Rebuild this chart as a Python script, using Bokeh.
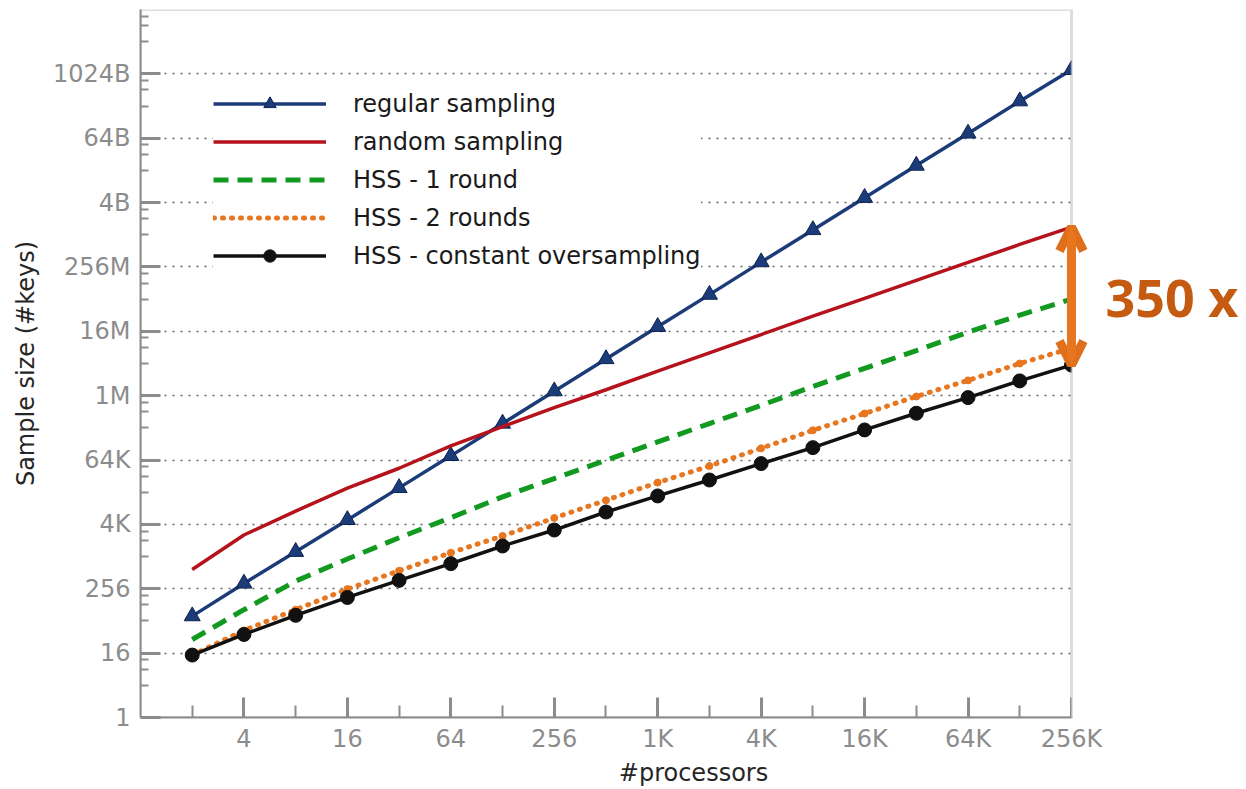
from bokeh.plotting import figure
from bokeh.models import (FixedTicker, Legend, LegendItem, Arrow, OpenHead, Label,
                          BoxAnnotation)
from bokeh.embed import file_html
from bokeh.resources import INLINE

# x: number of processors as powers of two (2 .. 256K)
processors_log2 = list(range(1, 19))

# sample sizes as log2(#keys)
regular_log2 = [6.3, 8.33, 10.3, 12.28, 14.27, 16.26, 18.27, 20.28, 22.28, 24.28,
                26.28, 28.3, 30.3, 32.3, 34.3, 36.3, 38.3, 40.25]
random_log2 = [9.2, 11.34, 12.83, 14.25, 15.49, 16.88, 18.08, 19.26, 20.37, 21.52,
               22.66, 23.8, 24.94, 26.05, 27.17, 28.28, 29.4, 30.48]
hss1_log2 = [4.85, 6.7, 8.48, 9.85, 11.17, 12.42, 13.71, 14.85, 15.98, 17.13,
             18.27, 19.4, 20.57, 21.7, 22.8, 23.95, 25.0, 26.0]
hss2_log2 = [3.88, 5.41, 6.7, 7.98, 9.12, 10.24, 11.28, 12.4, 13.5, 14.6,
             15.63, 16.73, 17.85, 18.89, 19.95, 20.95, 22.0, 22.95]
hssc_log2 = [3.88, 5.16, 6.35, 7.46, 8.52, 9.56, 10.66, 11.65, 12.77, 13.77,
             14.76, 15.78, 16.77, 17.87, 18.91, 19.88, 20.92, 21.9]

series_names = ["regular sampling", "random sampling", "HSS - 1 round",
                "HSS - 2 rounds", "HSS - constant oversampling"]

x_tick_log2 = [2, 4, 6, 8, 10, 12, 14, 16, 18]
x_tick_labels = ["4", "16", "64", "256", "1K", "4K", "16K", "64K", "256K"]
x_minor_log2 = [1, 3, 5, 7, 9, 11, 13, 15, 17]
y_tick_log2 = [0, 4, 8, 12, 16, 20, 24, 28, 32, 36, 40]
y_tick_labels = ["1", "16", "256", "4K", "64K", "1M", "16M", "256M", "4B", "64B", "1024B"]
y_minor_mult = [4, 8, 12]

ratio_text = "350 x"

xs = [2 ** k for k in processors_log2]
X_MAX = 2 ** 18          # right edge of the axes box
Y_MAX = 2 ** 44          # top edge of the axes box

def pw(lst):
    return [2 ** v for v in lst]

GRAY = "#8c8c8c"
FONT = "DejaVu Sans"

# the frame extends past 256K so that the "350 x" note has room; the axes box
# itself is closed at 256K by a drawn border
p = figure(width=1246, height=789, x_axis_type="log", y_axis_type="log",
           x_range=(1, 2 ** 21.384), y_range=(1, Y_MAX),
           output_backend="svg", toolbar_location=None,
           min_border_left=140, min_border_right=0,
           min_border_top=9, min_border_bottom=60)
p.background_fill_color = "white"
p.border_fill_color = "white"
p.outline_line_color = None

xt = FixedTicker(ticks=[2 ** e for e in x_tick_log2],
                 minor_ticks=[2 ** e for e in x_minor_log2])
y_minor = []
for e in y_tick_log2 + [44]:
    for m in y_minor_mult:
        v = m * 2 ** e
        if v < Y_MAX:
            y_minor.append(v)
yt = FixedTicker(ticks=[2 ** e for e in y_tick_log2], minor_ticks=y_minor)

p.xaxis.ticker = xt
p.yaxis.ticker = yt
p.xaxis.bounds = (1, X_MAX)
p.xaxis.major_label_overrides = {2 ** e: l for e, l in zip(x_tick_log2, x_tick_labels)}
p.yaxis.major_label_overrides = {2 ** e: l for e, l in zip(y_tick_log2, y_tick_labels)}

for ax in [p.xaxis[0], p.yaxis[0]]:
    ax.axis_line_color = GRAY
    ax.axis_line_width = 2
    ax.major_tick_line_color = GRAY
    ax.major_tick_line_width = 3
    ax.major_tick_in = 20
    ax.major_tick_out = 0
    ax.minor_tick_line_color = GRAY
    ax.minor_tick_line_width = 2
    ax.minor_tick_out = 0
    ax.major_label_text_font = FONT
    ax.major_label_text_color = GRAY
    ax.major_label_text_font_size = "24px"
    ax.axis_label_text_font = FONT
    ax.axis_label_text_font_size = "24px"
    ax.axis_label_text_font_style = "normal"
    ax.axis_label_text_color = "#262626"

p.xaxis.axis_label = "#processors"
p.yaxis.axis_label = "Sample size (#keys)"
p.xaxis.minor_tick_in = 12
p.yaxis.minor_tick_in = 8
p.xaxis.major_label_standoff = 7
p.xaxis.axis_label_standoff = 3
p.yaxis.major_label_standoff = 10
p.yaxis.axis_label_standoff = 10

p.xgrid.visible = False
p.ygrid.ticker = yt
p.ygrid.grid_line_color = "#666666"
p.ygrid.grid_line_width = 1.5
p.ygrid.grid_line_dash = "2 6"
p.ygrid.minor_grid_line_color = None

BLUE = "#1b3c78"
RED = "#b5121b"
GREEN = "#119a1f"
ORANGE = "#e8761f"
BLACK = "#111111"

r_reg_l = p.line(xs, pw(regular_log2), line_color=BLUE, line_width=3.5)
r_reg_m = p.scatter(xs, pw(regular_log2), marker="triangle", size=16,
                    fill_color=BLUE, line_color="#0d2350", line_width=1)
r_rand = p.line(xs, pw(random_log2), line_color=RED, line_width=3.5)
r_h1 = p.line(xs, pw(hss1_log2), line_color=GREEN, line_width=5, line_dash="15 9")
r_h2_l = p.line(xs, pw(hss2_log2), line_color=ORANGE, line_width=5,
                line_dash="1 8", line_cap="round")
r_h2_m = p.scatter(xs, pw(hss2_log2), marker="circle", size=7,
                   fill_color=ORANGE, line_color=ORANGE)
r_hc_l = p.line(xs, pw(hssc_log2), line_color=BLACK, line_width=3.5)
r_hc_m = p.scatter(xs, pw(hssc_log2), marker="circle", size=14,
                   fill_color=BLACK, line_color=BLACK)

legend = Legend(items=[
    LegendItem(label=series_names[0], renderers=[r_reg_l, r_reg_m]),
    LegendItem(label=series_names[1], renderers=[r_rand]),
    LegendItem(label=series_names[2], renderers=[r_h1]),
    LegendItem(label=series_names[3], renderers=[r_h2_l]),
    LegendItem(label=series_names[4], renderers=[r_hc_l, r_hc_m]),
], location=(73, 446))
legend.border_line_color = None
legend.background_fill_color = "white"
legend.background_fill_alpha = 1.0
legend.padding = 10
legend.margin = 0
legend.spacing = 7
legend.glyph_width = 113
legend.glyph_height = 31
legend.label_height = 31
legend.label_standoff = 27
legend.label_text_font = FONT
legend.label_text_font_size = "24px"
legend.label_text_color = "#1a1a1a"
p.add_layout(legend, "center")

# white area right of the axes box (hides grid and marker overflow)
cover = BoxAnnotation(left=X_MAX, fill_color="white", fill_alpha=1.0,
                      line_color=None, level="annotation")
p.add_layout(cover)
# axes box border (top and right edges)
box = BoxAnnotation(right=X_MAX, fill_alpha=0.0, line_color=GRAY, line_width=3,
                    level="annotation")
p.add_layout(box)

# annotation: ratio between random sampling and HSS at the largest processor count
x_last = xs[-1]
y_top = 2 ** random_log2[-1]
y_bot = 2 ** hssc_log2[-1]
arrow = Arrow(x_start=x_last, y_start=y_bot, x_end=x_last, y_end=y_top,
              line_color=ORANGE, line_width=9,
              start=OpenHead(size=24, line_color="#e06f1c", line_width=9),
              end=OpenHead(size=24, line_color="#e06f1c", line_width=9))
p.add_layout(arrow)
label = Label(x=x_last, y=2 ** ((random_log2[-1] + hssc_log2[-1]) / 2), x_offset=34,
              text=ratio_text, text_font="Open Sans", text_font_style="bold",
              text_font_size="52px", text_color="#c55a11", text_baseline="middle",
              text_align="left")
p.add_layout(label)

open("out.html", "w").write(file_html(p, INLINE))
